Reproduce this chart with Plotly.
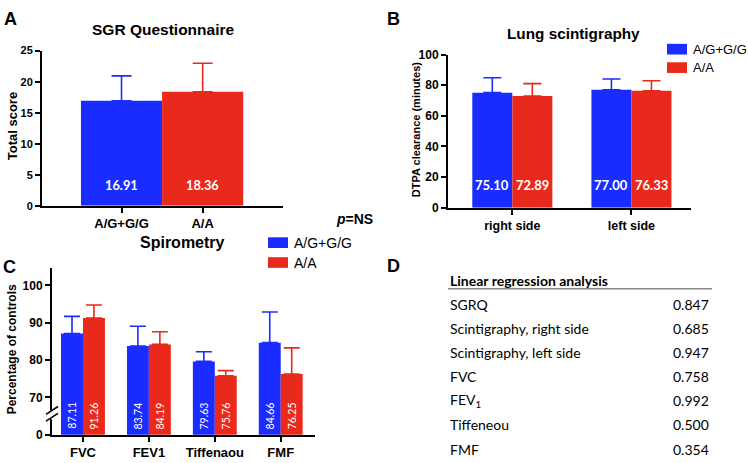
import plotly.graph_objects as go

W, H = 748, 463

# ---------------- data ----------------
series_names = ["A/G+G/G", "A/A"]
series_colors = ["#1a2cff", "#e8291c"]

sgrq_categories = ["A/G+G/G", "A/A"]
sgrq_means = [16.91, 18.36]
sgrq_err = [4.02, 4.60]

scint_categories = ["right side", "left side"]
scint_ag = [75.10, 77.00]
scint_aa = [72.89, 76.33]
scint_ag_err = [9.7, 7.0]
scint_aa_err = [8.1, 6.6]

spiro_categories = ["FVC", "FEV1", "Tiffenaou", "FMF"]
spiro_ag = [87.11, 83.74, 79.63, 84.66]
spiro_aa = [91.26, 84.19, 75.76, 76.25]
spiro_ag_err = [4.6, 5.3, 2.6, 8.2]
spiro_aa_err = [3.5, 3.4, 1.4, 7.0]
spiro_tickvals = [60, 70, 80, 90, 100]
spiro_ticktext = ["0", "70", "80", "90", "100"]

table_title = "Linear regression analysis"
table_labels = ["SGRQ", "Scintigraphy, right side", "Scintigraphy, left side",
                "FVC", "FEV<sub>1</sub>", "Tiffeneou", "FMF"]
table_values = ["0.847", "0.685", "0.947", "0.758", "0.992", "0.500", "0.354"]

# ---------------- helpers ----------------
def px(x):
    return x / W

def py(y):
    return 1 - y / H

ARIAL = "Liberation Sans, Arial, sans-serif"
LATO = "Lato, sans-serif"

fig = go.Figure()

# ---- Panel A ----
for i, (cat, m, e) in enumerate(zip(sgrq_categories, sgrq_means, sgrq_err)):
    fig.add_trace(go.Bar(
        x=[cat], y=[m], width=1.0, offset=-0.5,
        marker=dict(color=series_colors[i], line=dict(width=0)),
        error_y=dict(type="data", symmetric=False, array=[e], arrayminus=[0],
                     color=series_colors[i], thickness=1.6, width=10),
        xaxis="x", yaxis="y", showlegend=False))

# ---- Panel B ----
BW_B = 0.336
for vals, errs, off, col in [(scint_ag, scint_ag_err, -BW_B, series_colors[0]),
                             (scint_aa, scint_aa_err, 0.0, series_colors[1])]:
    fig.add_trace(go.Bar(
        x=scint_categories, y=vals, width=BW_B, offset=off,
        marker=dict(color=col, line=dict(width=0)),
        error_y=dict(type="data", symmetric=False, array=errs, arrayminus=[0] * len(errs),
                     color=col, thickness=1.6, width=9),
        xaxis="x2", yaxis="y2", showlegend=False))

# ---- Panel C ----
BW_C = 0.333
for vals, errs, off, col in [(spiro_ag, spiro_ag_err, -BW_C, series_colors[0]),
                             (spiro_aa, spiro_aa_err, 0.0, series_colors[1])]:
    fig.add_trace(go.Bar(
        x=spiro_categories, y=vals, width=BW_C, offset=off,
        marker=dict(color=col, line=dict(width=0)),
        error_y=dict(type="data", symmetric=False, array=errs, arrayminus=[0] * len(errs),
                     color=col, thickness=1.6, width=8),
        xaxis="x3", yaxis="y3", showlegend=False))

axis_common = dict(showline=True, linewidth=2, linecolor="black", ticks="outside",
                   ticklen=5, tickwidth=2, tickcolor="black", showgrid=False,
                   zeroline=False, fixedrange=True)

layout = dict(
    width=W, height=H, margin=dict(l=0, r=0, t=0, b=0),
    paper_bgcolor="white", plot_bgcolor="white", showlegend=False,
    xaxis=dict(axis_common, domain=[px(42), px(283)], anchor="y", type="category",
               range=[-0.98, 1.99],
               tickfont=dict(family=ARIAL, size=13, color="black", weight="bold")),
    yaxis=dict(axis_common, domain=[py(205), py(45)], anchor="x", range=[0, 25], dtick=5,
               tickfont=dict(family=ARIAL, size=11, color="black", weight="bold")),
    xaxis2=dict(axis_common, domain=[px(448), px(691)], anchor="y2", type="category",
                range=[-0.54, 1.5],
                tickfont=dict(family=ARIAL, size=12.5, color="black", weight="bold")),
    yaxis2=dict(axis_common, domain=[py(207), py(49)], anchor="x2", range=[0, 100], dtick=20,
                tickfont=dict(family=ARIAL, size=12, color="black", weight="bold")),
    xaxis3=dict(axis_common, domain=[px(52), px(315)], anchor="y3", type="category",
                range=[-0.47, 3.52],
                tickfont=dict(family=ARIAL, size=13, color="black", weight="bold")),
    yaxis3=dict(axis_common, domain=[py(441), py(269)], anchor="x3", range=[60, 104.7],
                tickvals=spiro_tickvals, ticktext=spiro_ticktext,
                tickfont=dict(family=ARIAL, size=12, color="black", weight="bold")),
)
fig.update_layout(**layout)

ann = []
def text(x, y, s, size, bold=True, family=ARIAL, angle=0, xanchor="center", color="black"):
    ann.append(dict(x=px(x), y=py(y), xref="paper", yref="paper", text=s, showarrow=False,
                    xanchor=xanchor, yanchor="middle", textangle=angle,
                    font=dict(family=family, size=size, color=color,
                              weight="bold" if bold else "normal")))

# panel letters
text(10, 12, "A", 18)
text(393, 12, "B", 18)
text(9, 268, "C", 18)
text(393, 267, "D", 18)

# titles
text(163, 23, "SGR Questionnaire", 15.5)
text(573, 27, "Lung scintigraphy", 15.3)
text(182, 243, "Spirometry", 16)

# y titles
text(12, 123, "Total score", 13, angle=-90)
text(416, 127, "DTPA clearance (minutes)", 11, angle=-90)
text(12, 353, "Percentage of controls", 12, angle=-90)

# p = NS
text(354, 219, "<i>p</i>=NS", 14)

# value labels in bars (data coordinates)
for i, m in enumerate(sgrq_means):
    ann.append(dict(x=i, y=0, xref="x", yref="y", text=f"{m:.2f}", showarrow=False,
                    yanchor="middle", yshift=21,
                    font=dict(family=LATO, size=12.8, color="white", weight="bold")))
for vals, sign in [(scint_ag, -1), (scint_aa, 1)]:
    for i, m in enumerate(vals):
        ann.append(dict(x=i + sign * BW_B / 2, y=0, xref="x2", yref="y2", text=f"{m:.2f}",
                        showarrow=False, yanchor="middle", yshift=23,
                        font=dict(family=LATO, size=13, color="white", weight="bold")))
for vals, sign in [(spiro_ag, -1), (spiro_aa, 1)]:
    for i, m in enumerate(vals):
        ann.append(dict(x=i + sign * BW_C / 2, y=spiro_tickvals[0], xref="x3", yref="y3",
                        text=f"{m:.2f}", showarrow=False, yanchor="middle", yshift=19,
                        textangle=-90,
                        font=dict(family=LATO, size=10.5, color="white")))

# custom legends
shapes = []
def legend(x0, ys, size):
    for (yc, name, col) in zip(ys, series_names, series_colors):
        shapes.append(dict(type="rect", xref="paper", yref="paper",
                           x0=px(x0), x1=px(x0 + 20), y0=py(yc + 5.5), y1=py(yc - 5.5),
                           fillcolor=col, line=dict(width=0)))
        text(x0 + 24, yc, name, size, bold=False, xanchor="left")

legend(667, [43.5, 62.5], 13)
legend(268, [243, 263.5], 14)

# axis break marks on panel C y-axis
shapes.append(dict(type="rect", xref="paper", yref="paper", x0=px(49), x1=px(55),
                   y0=py(425), y1=py(416), fillcolor="white", line=dict(width=0), layer="above"))
for yy in [420, 427]:
    shapes.append(dict(type="line", xref="paper", yref="paper", x0=px(46), x1=px(58),
                       y0=py(yy), y1=py(yy - 8), line=dict(color="black", width=1.6), layer="above"))

# table D
text(448, 282, table_title, 14, bold=True, family=LATO, xanchor="left")
shapes.append(dict(type="line", xref="paper", yref="paper", x0=px(448), x1=px(712),
                   y0=py(290.5), y1=py(290.5), line=dict(color="#8a8a8a", width=1.5)))
for i, (lab, val) in enumerate(zip(table_labels, table_values)):
    yy = 307 + i * 24.8
    text(448, yy, lab, 14, bold=False, family=LATO, xanchor="left")
    text(711, yy, val, 14, bold=False, family=LATO, xanchor="right")

fig.update_layout(annotations=ann, shapes=shapes)
fig.write_html("out.html",
               config={"displayModeBar": False},
               post_script="document.body.style.margin='0';document.body.style.overflow='hidden';")
